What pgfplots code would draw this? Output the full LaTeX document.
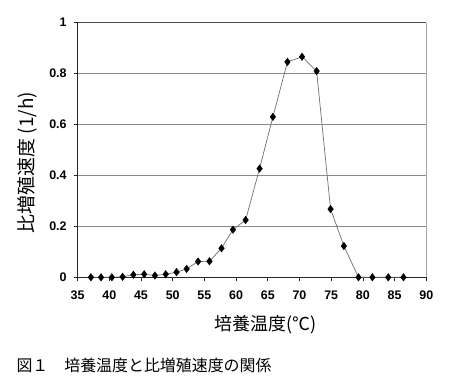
\documentclass[border=0pt]{standalone}
\usepackage{pgfplots}
\pgfplotsset{compat=1.18}
\usepackage{fontspec}
\setmainfont{Liberation Sans}
\newfontfamily\jp{Noto Sans CJK JP}
\definecolor{gridgray}{HTML}{8A8A8A}
\definecolor{linegray}{HTML}{6E6E6E}
\begin{document}
\begin{tikzpicture}
\useasboundingbox (0,0) rectangle (450bp,390bp);
\begin{axis}[
  at={(77.6bp,112.7bp)}, anchor=south west,
  scale only axis, width=348.7bp, height=254.6bp,
  xmin=35, xmax=90, ymin=0, ymax=1,
  xtick={35,40,...,90}, ytick={0,0.2,...,1},
  /pgf/number format/assume math mode=true,
  /pgf/number format/fixed,
  ticklabel style={font=\fontsize{12.5}{14}\selectfont\bfseries},
  axis x line*=bottom, axis y line*=left,
  axis line style={black!85, line width=0.8bp, -},
  tick align=outside, major tick length=4bp,
  tick style={black!85, line width=0.6bp},
  xticklabel shift=6bp, yticklabel shift=3.5bp,
  ymajorgrids, major grid style={gridgray, line width=0.9bp},
  xlabel={\jp 培養温度(℃)},
  xlabel style={font=\fontsize{18}{20}\selectfont, at={(axis description cs:0.539,-0.187)}, anchor=center},
  ylabel={\jp 比増殖速度 (1/h)},
  ylabel style={font=\fontsize{19}{21}\selectfont, at={(axis description cs:-0.144,0.451)}, anchor=center, rotate=0},
  clip=false,
]
\draw[gray!70, line width=1.5bp] (rel axis cs:1,0) -- (rel axis cs:1,1);
\draw[black!70, line width=1bp] (rel axis cs:0,1) -- (rel axis cs:1,1);
\addplot[linegray, line width=0.7bp, mark=diamond*, mark size=3.8bp,
  mark options={fill=black, draw=black, line width=0.3bp}] coordinates {
(37.1,0) (38.7,0) (40.4,0) (42.1,0.002) (43.8,0.01) (45.5,0.012)
(47.2,0.007) (48.9,0.012) (50.6,0.02) (52.2,0.033) (54.0,0.062)
(55.8,0.063) (57.7,0.114) (59.5,0.187) (61.5,0.225) (63.7,0.427)
(65.8,0.63) (68.1,0.846) (70.4,0.866) (72.7,0.81) (74.9,0.268)
(77.0,0.123) (79.3,0) (81.5,0) (84.0,0) (86.4,0)
};
\end{axis}
\node[anchor=west, font=\fontsize{16}{18}\selectfont\jp] at (13bp,25bp) {図１　培養温度と比増殖速度の関係};
\end{tikzpicture}
\end{document}
